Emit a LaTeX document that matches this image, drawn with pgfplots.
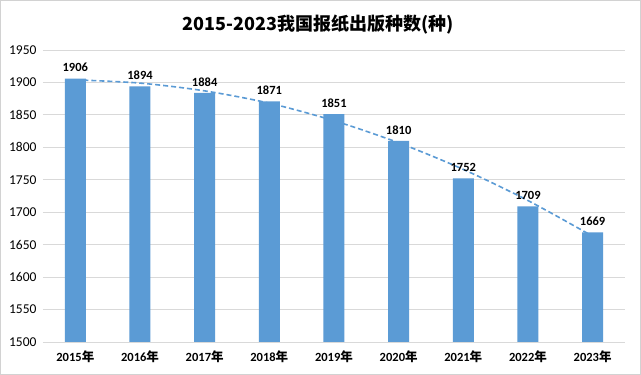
\documentclass[border=0pt]{standalone}
\usepackage{fontspec}
\setmainfont{Carlito}
\newfontfamily\cjk{Noto Sans CJK SC}
\usepackage{pgfplots}
\pgfplotsset{compat=1.18}
\definecolor{barblue}{HTML}{5B9BD5}
\definecolor{gridgray}{HTML}{D9D9D9}
\newcommand{\yr}[1]{\textbf{#1}{\cjk\bfseries 年}}
\begin{document}
\begin{tikzpicture}[x=1pt,y=1pt]
\fill[white] (0,0) rectangle (641,375);
\draw[gray!35, line width=0.8pt] (0.5,0.5) rectangle (640.5,374.5);
\node[font=\cjk\bfseries\fontsize{18}{20}\selectfont] at (318,350) {2015-2023我国报纸出版种数(种)};
\begin{axis}[
  at={(43pt,33pt)}, anchor=south west,
  scale only axis, width=582pt, height=292pt,
  xmin=-0.5, xmax=8.5, ymin=1500, ymax=1950,
  ytick={1500,1550,...,1950},
  xtick={0,...,8},
  xticklabels={\yr{2015},\yr{2016},\yr{2017},\yr{2018},\yr{2019},\yr{2020},\yr{2021},\yr{2022},\yr{2023}},
  axis line style={draw=none},
  tick style={draw=none},
  ymajorgrids, grid style={draw=gridgray, line width=0.8pt},
  /pgf/number format/assume math mode=true,
  /pgf/number format/1000 sep={},
  yticklabel style={font=\fontsize{13.5}{15}\selectfont, xshift=-3pt},
  xticklabel style={font=\fontsize{12.5}{14}\selectfont, yshift=-5pt},
  clip=false,
]
\addplot[ybar, bar width=21pt, fill=barblue, draw=none,
  nodes near coords,
  nodes near coords style={font=\bfseries\fontsize{12.5}{14}\selectfont, text=black, yshift=3pt}]
  coordinates {(0,1906) (1,1894) (2,1884) (3,1871) (4,1851) (5,1810) (6,1752) (7,1709) (8,1669)};
\addplot[smooth, color=barblue, line width=1.6pt, dash pattern=on 5pt off 3pt]
  coordinates {(0,1904) (1,1899) (2,1887) (3,1868) (4,1841) (5,1807) (6,1766) (7,1718) (8,1663)};
\end{axis}
\end{tikzpicture}
\end{document}
